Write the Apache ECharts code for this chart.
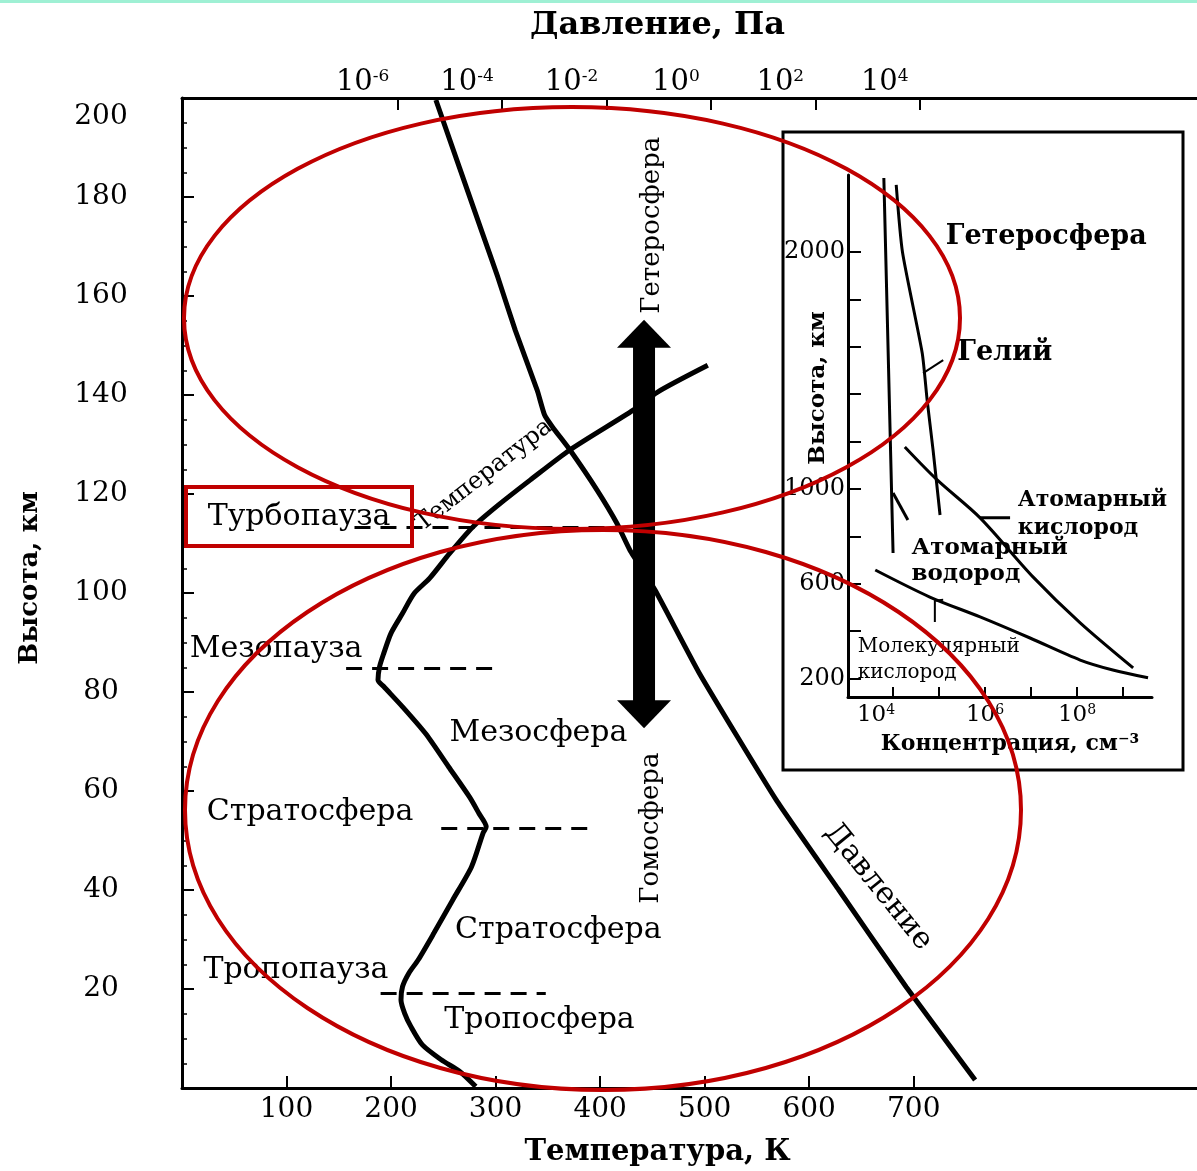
<!DOCTYPE html>
<html>
<head>
<meta charset="utf-8">
<script src="https://cdn.jsdelivr.net/npm/echarts@6/dist/echarts.min.js"></script>
<style>
html,body{margin:0;padding:0;background:#fff;}
#c{width:1197px;height:1171px;}
</style>
</head>
<body>
<div id="c"></div>
<script>
// ---------- DATA (main chart) ----------
// Temperature profile: altitude, km / temperature, K
const tempAlt = [0.3, 3.3, 5.7, 8.7, 12.4, 15.1, 17.8, 20.5, 23.2, 25.9, 31.3, 38, 44.7, 51.5, 52.8, 55.5, 58.8, 64.9, 71.6, 77, 81.1, 82.4, 85.1, 87.8, 91.9, 95.9, 99.9, 103, 108, 113.3, 118, 122.8, 128.9, 137, 140.6, 146];
const tempK   = [281, 266, 248, 230, 219, 213, 209.5, 211, 217, 226, 241, 259, 277, 288, 291, 284, 275, 255, 233, 211, 193, 187.5, 189, 193, 200, 211, 222, 237, 256, 278, 304, 333, 371, 432, 455, 503];
// Pressure profile: altitude, km / pressure, Pa
const presAlt = [199.6, 172.7, 163.8, 153, 141, 136, 133.5, 128.9, 120.8, 114, 108.7, 100.6, 83.8, 58.2, 40, 20.4, 1.6];
const presPa  = [5.4e-6, 4.2e-5, 8.3e-5, 1.8e-4, 4.7e-4, 6.5e-4, 9.3e-4, 2.0e-3, 6.6e-3, 1.6e-2, 2.8e-2, 8.5e-2, 0.6, 17.8, 282, 5500, 1.15e5];
// Pause levels (dashed): altitude, km and temperature span, K
const pauseAlt   = [113.3, 84.8, 52.5, 19.2];
const pauseFromK = [165, 157, 248, 190];
const pauseToK   = [405, 301, 391, 348];
// Homosphere / heterosphere arrow
const arrowK = 442, arrowLowKm = 72.7, arrowHighKm = 155.2;
// Tick labels
const tempTicks = [100, 200, 300, 400, 500, 600, 700];
const presTickExp = [-6, -4, -2, 0, 2, 4];

// ---------- DATA (inset) ----------
const hAlt = [2312, 1586, 730];           const hConc = [6.3e3, 7.8e3, 1.0e4];
const hBrAlt = [983, 869];                const hBrConc = [1.0e4, 2.1e4];
const heAlt = [2283, 2000, 1574, 1376, 1165, 890];
const heConc = [1.17e4, 1.6e4, 4.3e4, 5.5e4, 7.4e4, 1.05e5];
const oAlt = [1177, 1038, 878, 629, 435, 245];
const oConc = [1.8e4, 9.1e4, 7.8e5, 1.1e7, 1.17e8, 1.66e9];
const o2Alt = [658, 544, 460, 371, 278, 236, 203];
const o2Conc = [4.1e3, 6.3e4, 7.8e5, 9.5e6, 1.17e8, 6.0e8, 3.5e9];
const heLeaderAlt = [1489, 1544];  const heLeaderConc = [4.5e4, 1.23e5];
const oLeaderAlt = [878, 878];     const oLeaderConc = [7.8e5, 3.5e6];
const hLeaderAlt = [532, 528, 439]; const hLeaderConc = [1.23e5, 8.1e4, 8.1e4];
const insetAltTicks = [200, 400, 600, 800, 1000, 1200, 1400, 1600, 1800, 2000];
const insetAltLabels = [200, 600, 1000, 2000];
const insetConcTickExp = [4, 5, 6, 7, 8, 9];
const insetConcLabelExp = [4, 6, 8];

// ---------- annotations ----------
const FONT = 'DejaVu Serif';
const mainNotes = [
  {text: 'Турбопауза',  T: 112, h: 115.4},
  {text: 'Мезопауза',   T: 90,  h: 88.7},
  {text: 'Стратосфера', T: 122.5, h: 55.8},
  {text: 'Тропопауза',  T: 109, h: 23.8},
  {text: 'Мезосфера',   T: 341, h: 71.7},
  {text: 'Стратосфера', T: 360, h: 31.9},
  {text: 'Тропосфера',  T: 342, h: 13.7},
  {text: 'Гетеросфера', T: 450, h: 174.3, rot: 90, size: 26},
  {text: 'Гомосфера',   T: 449, h: 52.5, rot: 90, size: 26},
  {text: 'Температура', T: 289, h: 123.8, rot: 38, size: 24},
  {text: 'Давление',    T: 666, h: 40.6, rot: -51, size: 30}
];
const insetNotes = [
  {text: 'Гетеросфера', e: 7.33, h: 2063, size: 27, bold: true, pos: 'inside'},
  {text: 'Гелий', e: 6.43, h: 1574, size: 27, bold: true, pos: 'inside'},
  {text: 'Атомарный\nкислород', e: 6.70, h: 894, size: 22, bold: true, pos: 'right', lh: 28},
  {text: 'Атомарный\nводород', e: 4.39, h: 696, size: 23, bold: true, pos: 'right', lh: 26},
  {text: 'Молекулярный\nкислород', e: 3.22, h: 278, size: 20, bold: false, pos: 'right', lh: 26}
];

const chart = echarts.init(document.getElementById('c'), null, {renderer: 'canvas'});
const black = '#000';
const axisLine = {show: true, onZero: false, lineStyle: {color: black, width: 3}};

const option = {
  animation: false,
  backgroundColor: '#fff',
  textStyle: {fontFamily: FONT, color: black},
  grid: [
    {left: 182, top: 98, right: 0, bottom: 83, outerBoundsMode: 'none'},
    {left: 848, top: 175, width: 304, height: 522, outerBoundsMode: 'none'}
  ],
  xAxis: [
    {
      gridIndex: 0, type: 'value', position: 'bottom', min: 0, max: 971,
      axisLine: axisLine,
      axisTick: {show: true, inside: true, length: 12, customValues: tempTicks, lineStyle: {color: black, width: 2}},
      axisLabel: {show: true, margin: 8, customValues: tempTicks, color: black, fontFamily: FONT, fontSize: 28},
      splitLine: {show: false},
      name: 'Температура, К', nameLocation: 'middle', nameGap: 50, nameMoveOverlap: false,
      nameTextStyle: {fontFamily: FONT, fontSize: 29, fontWeight: 'bold', color: black, padding: [0, 64, 0, 0]}
    },
    {
      gridIndex: 0, type: 'value', position: 'top', min: -10.13, max: 9.31,
      axisLine: axisLine,
      axisTick: {show: true, inside: true, length: 12, customValues: presTickExp, lineStyle: {color: black, width: 2}},
      axisLabel: {
        show: true, margin: 1, customValues: presTickExp,
        formatter: v => '{b|10}{s|' + String(v) + '}{g| }',
        rich: {
          b: {fontFamily: FONT, fontSize: 29, color: black},
          s: {fontFamily: FONT, fontSize: 17, color: black, verticalAlign: 'top', padding: [0, 0, 12, 0]},
          g: {width: 70}
        }
      },
      splitLine: {show: false},
      name: 'Давление, Па', nameLocation: 'middle', nameGap: 56, nameMoveOverlap: false,
      nameTextStyle: {fontFamily: FONT, fontSize: 32, fontWeight: 'bold', color: black, padding: [0, 64, 0, 0]}
    },
    {
      gridIndex: 1, type: 'value', position: 'bottom', min: 3.02, max: 9.63,
      axisLine: axisLine,
      axisTick: {show: true, inside: true, length: 10, customValues: insetConcTickExp, lineStyle: {color: black, width: 2}},
      axisLabel: {
        show: true, margin: 6, customValues: insetConcLabelExp,
        formatter: v => '{b|10}{s|' + String(v) + '}' + (v === 4 ? '{g| }' : ''),
        rich: {
          b: {fontFamily: FONT, fontSize: 23, color: black},
          s: {fontFamily: FONT, fontSize: 14, color: black, verticalAlign: 'top', padding: [0, 0, 10, 0]},
          g: {width: 34}
        }
      },
      splitLine: {show: false},
      name: 'Концентрация, см⁻³', nameLocation: 'middle', nameGap: 36, nameMoveOverlap: false,
      nameTextStyle: {fontFamily: FONT, fontSize: 22, fontWeight: 'bold', color: black, padding: [0, 0, 0, 20]}
    }
  ],
  yAxis: [
    {
      gridIndex: 0, type: 'value', min: 0, max: 200, interval: 20,
      axisLine: axisLine,
      axisTick: {show: true, inside: true, length: 12, lineStyle: {color: black, width: 2}},
      minorTick: {show: true, splitNumber: 4, length: 5, lineStyle: {color: black, width: 1.5}},
      axisLabel: {
        show: true, align: 'center', margin: 81,
        formatter: v => v === 0 ? '' : (v === 200 ? '{d|200}' : '{n|' + v + '}'),
        rich: {
          n: {fontFamily: FONT, fontSize: 28, color: black},
          d: {fontFamily: FONT, fontSize: 28, color: black, padding: [38, 0, 0, 0]}
        }
      },
      splitLine: {show: false},
      name: 'Высота, км', nameLocation: 'middle', nameGap: 139, nameMoveOverlap: false,
      nameTextStyle: {fontFamily: FONT, fontSize: 26, fontWeight: 'bold', color: black, padding: [0, 0, 0, 30]}
    },
    {
      gridIndex: 1, type: 'value', min: 122, max: 2325,
      axisLine: axisLine,
      axisTick: {show: true, inside: true, length: 13, customValues: insetAltTicks, lineStyle: {color: black, width: 2}},
      axisLabel: {show: true, margin: 3, customValues: insetAltLabels, formatter: v => String(v), color: black, fontFamily: FONT, fontSize: 24},
      splitLine: {show: false},
      name: 'Высота, км', nameLocation: 'middle', nameGap: 18, nameMoveOverlap: false,
      nameTextStyle: {fontFamily: FONT, fontSize: 23, fontWeight: 'bold', color: black, padding: [0, 0, 0, 96]}
    }
  ],
  series: [
    {
      name: 'temperature', type: 'line', xAxisIndex: 0, yAxisIndex: 0,
      data: tempK.map((t, i) => [t, tempAlt[i]]),
      smooth: 0.25, symbol: 'none', lineStyle: {color: black, width: 5}, z: 3
    },
    {
      name: 'pressure', type: 'line', xAxisIndex: 1, yAxisIndex: 0,
      data: presPa.map((p, i) => [Math.log10(p), presAlt[i]]),
      smooth: 0.15, symbol: 'none', lineStyle: {color: black, width: 5}, z: 3
    },
    {
      name: 'pauses', type: 'lines', coordinateSystem: 'cartesian2d', xAxisIndex: 0, yAxisIndex: 0,
      data: pauseAlt.map((h, i) => ({coords: [[pauseFromK[i], h], [pauseToK[i], h]]})),
      lineStyle: {color: black, width: 3, type: [16, 10], opacity: 1}, z: 3
    },
    {
      name: 'arrow', type: 'custom', xAxisIndex: 0, yAxisIndex: 0,
      data: [[arrowK, arrowLowKm, arrowHighKm]],
      renderItem: (params, api) => {
        const top = api.coord([api.value(0), api.value(2)]);
        const bot = api.coord([api.value(0), api.value(1)]);
        const cx = top[0], hw = 11, headW = 27, headH = 28;
        return {
          type: 'group',
          children: [
            {type: 'rect', shape: {x: cx - hw, y: top[1] + headH - 1, width: 2 * hw, height: bot[1] - top[1] - 2 * headH + 2}, style: {fill: black}},
            {type: 'polygon', shape: {points: [[cx, top[1]], [cx - headW, top[1] + headH], [cx + headW, top[1] + headH]]}, style: {fill: black}},
            {type: 'polygon', shape: {points: [[cx, bot[1]], [cx - headW, bot[1] - headH], [cx + headW, bot[1] - headH]]}, style: {fill: black}}
          ]
        };
      },
      z: 4
    },
    {
      name: 'notes', type: 'scatter', xAxisIndex: 0, yAxisIndex: 0, silent: true,
      symbolSize: 1, itemStyle: {color: 'rgba(0,0,0,0)', opacity: 1},
      data: mainNotes.map(n => ({
        value: [n.T, n.h],
        label: {
          show: true, position: 'inside', formatter: n.text, rotate: n.rot || 0,
          fontFamily: FONT, fontSize: n.size || 30, color: black, opacity: 1
        }
      })),
      z: 5
    },
    // inset curves
    {type: 'line', xAxisIndex: 2, yAxisIndex: 1, data: hConc.map((c, i) => [Math.log10(c), hAlt[i]]), symbol: 'none', lineStyle: {color: black, width: 3}},
    {type: 'line', xAxisIndex: 2, yAxisIndex: 1, data: hBrConc.map((c, i) => [Math.log10(c), hBrAlt[i]]), symbol: 'none', lineStyle: {color: black, width: 3}},
    {type: 'line', xAxisIndex: 2, yAxisIndex: 1, data: heConc.map((c, i) => [Math.log10(c), heAlt[i]]), smooth: 0.2, symbol: 'none', lineStyle: {color: black, width: 3}},
    {type: 'line', xAxisIndex: 2, yAxisIndex: 1, data: oConc.map((c, i) => [Math.log10(c), oAlt[i]]), smooth: 0.3, symbol: 'none', lineStyle: {color: black, width: 3}},
    {type: 'line', xAxisIndex: 2, yAxisIndex: 1, data: o2Conc.map((c, i) => [Math.log10(c), o2Alt[i]]), smooth: 0.3, symbol: 'none', lineStyle: {color: black, width: 3}},
    {type: 'line', xAxisIndex: 2, yAxisIndex: 1, data: heLeaderConc.map((c, i) => [Math.log10(c), heLeaderAlt[i]]), symbol: 'none', lineStyle: {color: black, width: 2}},
    {type: 'line', xAxisIndex: 2, yAxisIndex: 1, data: oLeaderConc.map((c, i) => [Math.log10(c), oLeaderAlt[i]]), symbol: 'none', lineStyle: {color: black, width: 3}},
    {type: 'line', xAxisIndex: 2, yAxisIndex: 1, data: hLeaderConc.map((c, i) => [Math.log10(c), hLeaderAlt[i]]), symbol: 'none', lineStyle: {color: black, width: 2}},
    {
      name: 'insetNotes', type: 'scatter', xAxisIndex: 2, yAxisIndex: 1, silent: true,
      symbolSize: 1, itemStyle: {color: 'rgba(0,0,0,0)', opacity: 1},
      data: insetNotes.map(n => ({
        value: [n.e, n.h],
        label: {
          show: true, position: n.pos, distance: 0, align: n.pos === 'right' ? 'left' : 'center',
          formatter: n.text, fontFamily: FONT, fontSize: n.size, fontWeight: n.bold ? 'bold' : 'normal',
          lineHeight: n.lh || n.size + 4, color: black, opacity: 1
        }
      })),
      z: 5
    }
  ],
  graphic: [
    {type: 'rect', shape: {x: 0, y: 0, width: 1197, height: 3}, style: {fill: '#9ff0d4'}, z: 100},
    {type: 'rect', shape: {x: 783, y: 132, width: 400, height: 638}, style: {fill: 'none', stroke: black, lineWidth: 3}, z: 1},
    {type: 'ellipse', shape: {cx: 572, cy: 318, rx: 388, ry: 211}, style: {fill: 'none', stroke: '#c00000', lineWidth: 4}, z: 100},
    {type: 'ellipse', shape: {cx: 603, cy: 810, rx: 418, ry: 280}, style: {fill: 'none', stroke: '#c00000', lineWidth: 4}, z: 100},
    {type: 'rect', shape: {x: 186, y: 487, width: 226, height: 59}, style: {fill: 'none', stroke: '#c00000', lineWidth: 4}, z: 100}
  ]
};
chart.setOption(option);
</script>
</body>
</html>
